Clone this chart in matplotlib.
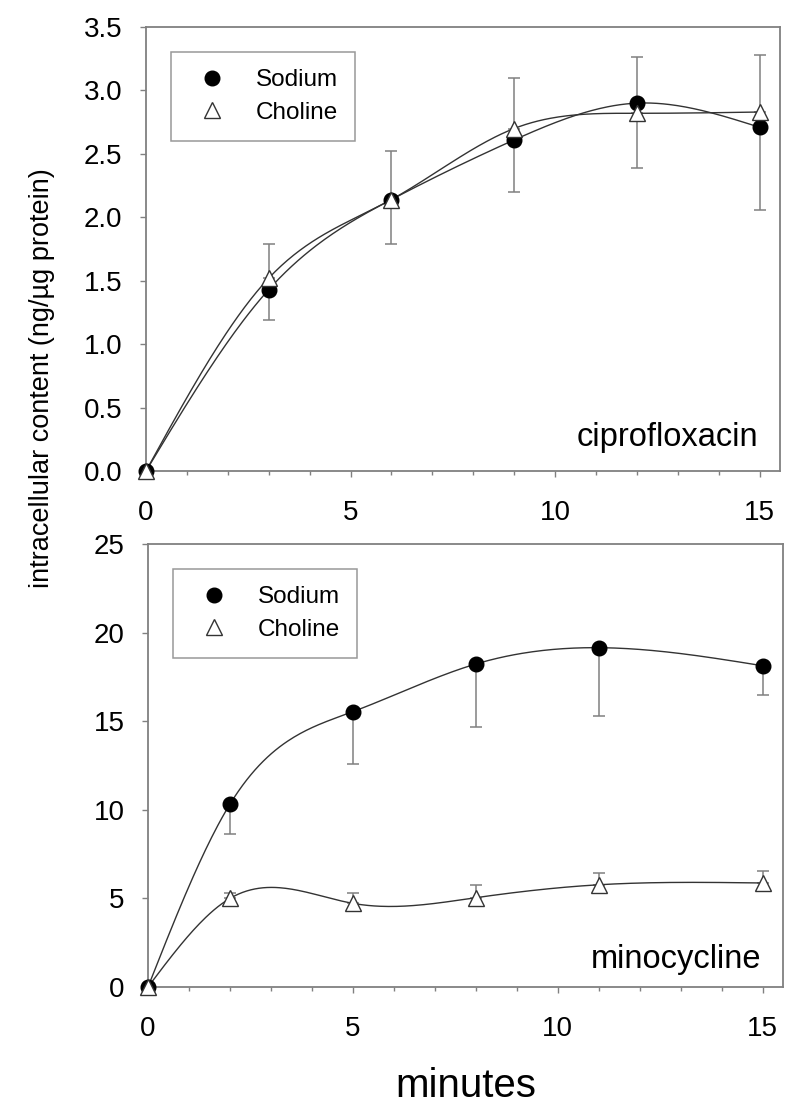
import numpy as np
import matplotlib
matplotlib.use('Agg')
import matplotlib.pyplot as plt
from matplotlib.lines import Line2D
from matplotlib.ticker import MultipleLocator

plt.rcParams['font.family'] = ['Liberation Sans', 'DejaVu Sans']

# ciprofloxacin panel
cipro_min = [0, 3, 6, 9, 12, 15]
cipro_na = [0.0, 1.43, 2.14, 2.61, 2.90, 2.71]
cipro_na_err = [0.0, 0.24, 0.35, 0.41, 0.51, 0.65]   # drawn downward
cipro_ch = [0.0, 1.52, 2.14, 2.70, 2.82, 2.83]
cipro_ch_err = [0.0, 0.27, 0.38, 0.40, 0.44, 0.45]   # drawn upward

# minocycline panel
mino_min = [0, 2, 5, 8, 11, 15]
mino_na = [0.0, 10.32, 15.54, 18.23, 19.15, 18.13]
mino_na_err = [0.0, 1.67, 2.97, 3.54, 3.86, 1.63]
mino_ch = [0.0, 5.00, 4.72, 5.04, 5.77, 5.87]
mino_ch_err = [0.0, 0.30, 0.60, 0.72, 0.68, 0.69]

GRAY = '#808080'
LINE = '#333333'


def natural_spline(x, y, xs):
    # plain natural cubic spline, used only to draw the smooth curve
    x = np.asarray(x, float)
    y = np.asarray(y, float)
    n = len(x)
    h = np.diff(x)
    A = np.zeros((n, n))
    r = np.zeros(n)
    A[0, 0] = 1
    A[-1, -1] = 1
    for i in range(1, n - 1):
        A[i, i - 1] = h[i - 1]
        A[i, i] = 2 * (h[i - 1] + h[i])
        A[i, i + 1] = h[i]
        r[i] = 3 * ((y[i + 1] - y[i]) / h[i] - (y[i] - y[i - 1]) / h[i - 1])
    c = np.linalg.solve(A, r)
    out = np.zeros_like(xs)
    for k, xv in enumerate(xs):
        i = min(max(np.searchsorted(x, xv) - 1, 0), n - 2)
        b = (y[i + 1] - y[i]) / h[i] - h[i] * (2 * c[i] + c[i + 1]) / 3
        d = (c[i + 1] - c[i]) / (3 * h[i])
        t = xv - x[i]
        out[k] = y[i] + b * t + c[i] * t ** 2 + d * t ** 3
    return out


def draw_panel(ax, xs, na, na_err, ch, ch_err, ymax, ystep, label, lab_y):
    zeros = np.zeros(len(xs))
    ax.errorbar(xs, na, yerr=[na_err, zeros], fmt='none', ecolor=GRAY,
                elinewidth=1.1, capsize=4.5, capthick=1.1, zorder=2)
    ax.errorbar(xs, ch, yerr=[zeros, ch_err], fmt='none', ecolor=GRAY,
                elinewidth=1.1, capsize=4.5, capthick=1.1, zorder=2)
    fine = np.linspace(xs[0], xs[-1], 300)
    ax.plot(fine, natural_spline(xs, na, fine), color=LINE, lw=1.0, zorder=3)
    ax.plot(fine, natural_spline(xs, ch, fine), color=LINE, lw=1.0, zorder=3)
    ax.plot(xs, na, 'o', ms=10.5, mfc='black', mec='black', zorder=4, clip_on=False)
    ax.plot(xs, ch, '^', ms=11, mfc='white', mec=LINE, mew=1.0, zorder=5, clip_on=False)

    ax.set_xlim(0, 15.5)
    ax.set_ylim(0, ymax)
    ax.xaxis.set_major_locator(MultipleLocator(5))
    ax.xaxis.set_minor_locator(MultipleLocator(1))
    ax.yaxis.set_major_locator(MultipleLocator(ystep))
    for s in ax.spines.values():
        s.set_color(GRAY)
        s.set_linewidth(1.3)
    ax.tick_params(axis='both', which='both', direction='out', color=GRAY,
                   width=1.0, labelsize=20)
    ax.tick_params(axis='x', which='major', length=4, pad=17)
    ax.tick_params(axis='x', which='minor', length=3)
    ax.tick_params(axis='y', which='major', length=4, pad=13)

    handles = [Line2D([], [], ls='none', marker='o', ms=10.5, mfc='black', mec='black'),
               Line2D([], [], ls='none', marker='^', ms=11, mfc='white', mec=LINE, mew=1.0)]
    leg = ax.legend(handles, ['Sodium', 'Choline'], loc='upper left',
                    bbox_to_anchor=(0.039, 0.944), fontsize=17.5, frameon=True,
                    fancybox=False, edgecolor=GRAY, handlelength=1.93,
                    handletextpad=0.84, borderpad=0.72, labelspacing=0.42,
                    borderaxespad=0)
    leg.get_frame().set_linewidth(1.1)
    ax.text(0.966, lab_y, label, transform=ax.transAxes, ha='right',
            va='baseline', fontsize=23.5)


fig = plt.figure(figsize=(8, 11.08), dpi=100)
ax1 = fig.add_axes([0.1825, 0.5749, 0.7925, 0.4007])
ax2 = fig.add_axes([0.185, 0.1092, 0.794, 0.3998])

draw_panel(ax1, cipro_min, cipro_na, cipro_na_err, cipro_ch, cipro_ch_err,
           3.5, 0.5, 'ciprofloxacin', 0.057)
ax1.yaxis.set_major_formatter(matplotlib.ticker.FormatStrFormatter('%.1f'))
draw_panel(ax2, mino_min, mino_na, mino_na_err, mino_ch, mino_ch_err,
           25, 5, 'minocycline', 0.042)

fig.text(0.0525, 0.659, 'intracellular content (ng/\u00b5g protein)',
         rotation=90, ha='center', va='center', fontsize=19.5)
fig.text(0.5825, 0.0099, 'minutes', ha='center', va='baseline', fontsize=29)

fig.savefig('out.png', dpi=100)
